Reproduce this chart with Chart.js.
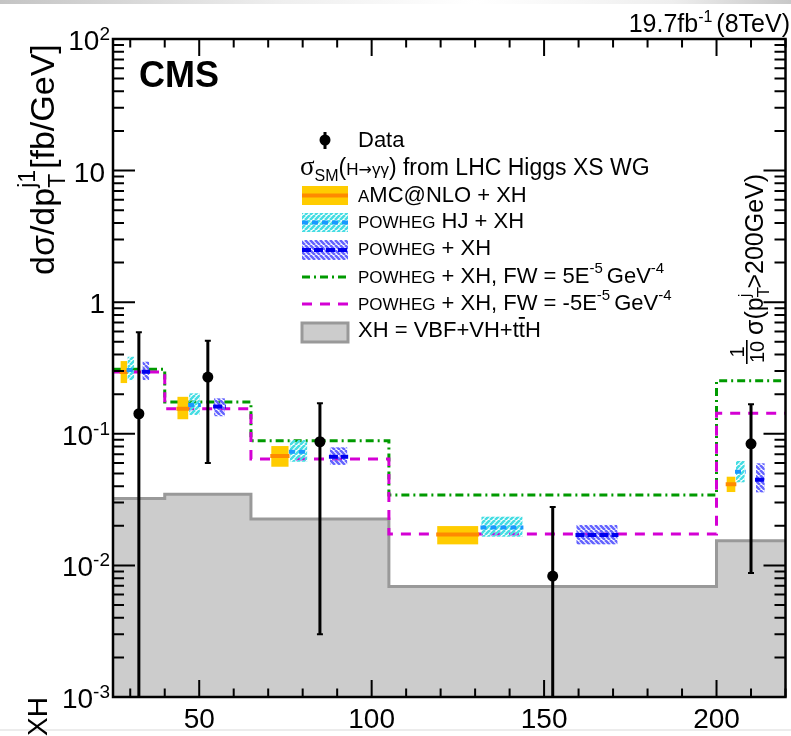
<!DOCTYPE html>
<html>
<head>
<meta charset="utf-8">
<script src="https://cdn.jsdelivr.net/npm/chart.js@4/dist/chart.umd.min.js"></script>
<style>
html, body { margin: 0; padding: 0; background: #fff; }
canvas { display: block; }
</style>
</head>
<body>
<canvas id="grafico" width="791" height="736"></canvas>
<script>
// bins of leading-jet pT (GeV); last bin shown as 1/10 of sigma(pT > 200 GeV)
const binEdges = [25, 40, 65, 105, 200, 220];
const binCenters = [32.5, 52.5, 85, 152.5, 210];

// data with error bar ends (0 = below the frame)
const dataY = [0.142, 0.27, 0.087, 0.0083, 0.084];
const dataHi = [0.59, 0.51, 0.171, 0.0278, 0.168];
const dataLo = [0, 0.06, 0.003, 0, 0.00875];

// XH = VBF+VH+ttH histogram
const xhVals = [0.0323, 0.0348, 0.0225, 0.0069, 0.0154];
// POWHEG + XH with FW = +5E-5 and -5E-5 GeV^-4
const fwPlus = [0.309, 0.1745, 0.0887, 0.0343, 0.253];
const fwMinus = [0.295, 0.155, 0.0644, 0.0173, 0.143];

// aMC@NLO + XH
const amcC = [0.295, 0.155, 0.0678, 0.0172, 0.0413];
const amcHi = [0.357, 0.191, 0.0807, 0.0199, 0.0472];
const amcLo = [0.243, 0.129, 0.0562, 0.01445, 0.0361];
// POWHEG HJ + XH
const hjC = [0.305, 0.1656, 0.0731, 0.01945, 0.0515];
const hjHi = [0.385, 0.203, 0.0897, 0.02344, 0.0621];
const hjLo = [0.256, 0.139, 0.0613, 0.01652, 0.0428];
// POWHEG + XH
const powC = [0.296, 0.161, 0.067, 0.017, 0.0448];
const powHi = [0.353, 0.186, 0.0789, 0.0203, 0.0597];
const powLo = [0.256, 0.136, 0.058, 0.01445, 0.0359];

const xTicksMajor = [50, 100, 150, 200];
const yDecades = [-3, -2, -1, 0, 1, 2];

const SANS = '"Liberation Sans", Arial, Helvetica, sans-serif';
const SERIF = '"Liberation Serif", "DejaVu Serif", serif';
const DEJAVU = '"DejaVu Sans", sans-serif';

const stepPoints = vals => binEdges.map((e, i) => ({ x: e, y: vals[Math.min(i, vals.length - 1)] }));

const canva = document.getElementById("grafico").getContext("2d");

function hatch(color, forward) {
  const s = 5;
  const c = document.createElement("canvas");
  c.width = s; c.height = s;
  const g = c.getContext("2d");
  g.strokeStyle = color;
  g.lineWidth = 2.6;
  g.beginPath();
  for (let k = -1; k <= 1; k++) {
    if (forward) { g.moveTo(k * s, s); g.lineTo(k * s + s, 0); }
    else { g.moveTo(k * s, 0); g.lineTo(k * s + s, s); }
  }
  g.stroke();
  return canva.createPattern(c, "repeat");
}

const cyanHatch = hatch("#45dde3", true);
const blueHatch = hatch("#6464ff", false);

// prediction boxes sit at these fractions of each bin
const bandWidth = 0.125;
const bands = [
  { c: amcC, hi: amcHi, lo: amcLo, pos: 0.21, fill: "#ffcc00", line: "#ff8a00", dash: [] },
  { c: hjC, hi: hjHi, lo: hjLo, pos: 0.345, fill: cyanHatch, line: "#1a98ff", dash: [6, 4] },
  { c: powC, hi: powHi, lo: powLo, pos: 0.635, fill: blueHatch, line: "#0000ee", dash: [9, 3] }
];

// draws text runs with sizes / offsets, returns the width
function rich(ctx, x, y, segs) {
  let cx = x;
  for (const s of segs) {
    ctx.font = (s.b ? "bold " : "") + s.f + "px " + (s.fam || SANS);
    ctx.fillText(s.t, cx, y + (s.dy || 0));
    if (!s.stay) cx += ctx.measureText(s.t).width + (s.gap || 0);
  }
  return cx - x;
}

function richWidth(ctx, segs) {
  let w = 0;
  for (const s of segs) {
    ctx.font = (s.b ? "bold " : "") + s.f + "px " + (s.fam || SANS);
    if (!s.stay) w += ctx.measureText(s.t).width + (s.gap || 0);
  }
  return w;
}

const cmsPlugin = {
  id: "cmsStyle",
  beforeDatasetDraw(chart, args) {
    if (args.index !== 3) return;
    const { ctx, chartArea, scales } = chart;
    const X = v => scales.x.getPixelForValue(v);
    const Y = v => v <= 0 ? chartArea.bottom + 5 : scales.y.getPixelForValue(v);
    ctx.save();
    ctx.beginPath();
    ctx.rect(chartArea.left, chartArea.top, chartArea.right - chartArea.left, chartArea.bottom - chartArea.top);
    ctx.clip();
    // theory boxes
    for (const b of bands) {
      for (let i = 0; i < b.c.length; i++) {
        const w = binEdges[i + 1] - binEdges[i];
        const xc = binEdges[i] + b.pos * w;
        const x0 = X(xc - w * bandWidth / 2), x1 = X(xc + w * bandWidth / 2);
        const yT = Y(b.hi[i]), yB = Y(b.lo[i]), yC = Y(b.c[i]);
        ctx.fillStyle = b.fill;
        ctx.fillRect(x0, yT, x1 - x0, yB - yT);
        ctx.strokeStyle = b.line;
        ctx.lineWidth = 4;
        ctx.setLineDash(b.dash);
        ctx.beginPath();
        ctx.moveTo(x0 - 1, yC);
        ctx.lineTo(x1 + 1, yC);
        ctx.stroke();
      }
    }
    ctx.setLineDash([]);
    // data error bars
    ctx.strokeStyle = "black";
    ctx.lineWidth = 3;
    for (let i = 0; i < dataY.length; i++) {
      const x = X(binCenters[i]);
      const yT = Y(dataHi[i]), yB = Y(dataLo[i]);
      ctx.beginPath();
      ctx.moveTo(x, yT);
      ctx.lineTo(x, yB);
      ctx.stroke();
      ctx.lineWidth = 2;
      ctx.beginPath();
      ctx.moveTo(x - 3, yT); ctx.lineTo(x + 3, yT);
      if (dataLo[i] > 0) { ctx.moveTo(x - 3, yB); ctx.lineTo(x + 3, yB); }
      ctx.stroke();
      ctx.lineWidth = 3;
    }
    ctx.restore();
  },
  afterDraw(chart) {
    const { ctx, chartArea, scales } = chart;
    const { left, right, top, bottom } = chartArea;
    const X = v => scales.x.getPixelForValue(v);
    const Y = v => scales.y.getPixelForValue(v);
    ctx.save();

    // page edges
    const gr = ctx.createLinearGradient(0, 0, 791, 0);
    gr.addColorStop(0, "#c4c4c4");
    gr.addColorStop(0.35, "#eeeeee");
    gr.addColorStop(0.6, "#ffffff");
    gr.addColorStop(0.85, "#eeeeee");
    gr.addColorStop(1, "#c8c8c8");
    ctx.fillStyle = gr;
    ctx.fillRect(0, 0, 791, 4);
    ctx.fillStyle = "#ececec";
    ctx.fillRect(0, 729, 791, 2);

    // frame
    ctx.strokeStyle = "black";
    ctx.lineWidth = 2.5;
    ctx.strokeRect(left, top, right - left, bottom - top);

    // x ticks, bottom and top
    ctx.lineWidth = 2;
    ctx.beginPath();
    for (let v = 30; v <= 220; v += 10) {
      const x = X(v);
      const len = v % 50 === 0 ? 17 : 8.5;
      ctx.moveTo(x, bottom); ctx.lineTo(x, bottom - len);
      ctx.moveTo(x, top); ctx.lineTo(x, top + len);
    }
    // y ticks, left and right
    for (const k of yDecades) {
      for (let m = 1; m <= 9; m++) {
        const v = m * Math.pow(10, k);
        if (v > 100.0001) continue;
        const y = Y(v);
        const len = m === 1 ? 22 : 11;
        ctx.moveTo(left, y); ctx.lineTo(left + len, y);
        ctx.moveTo(right, y); ctx.lineTo(right - len, y);
      }
    }
    ctx.stroke();

    // tick labels
    ctx.fillStyle = "black";
    ctx.textBaseline = "alphabetic";
    ctx.textAlign = "left";
    for (const k of yDecades) {
      const y = Y(Math.pow(10, k));
      let segs;
      if (k === 0) segs = [{ t: "1", f: 28 }];
      else if (k === 1) segs = [{ t: "10", f: 28 }];
      else segs = [{ t: "10", f: 28 }, { t: String(k), f: 19, dy: -10 }];
      const w = richWidth(ctx, segs);
      const rx = (k === 0 || k === 1) ? 105 : 110;
      rich(ctx, rx - w, y + 11, segs);
    }
    ctx.font = "28px " + SANS;
    ctx.textAlign = "center";
    for (const v of xTicksMajor) ctx.fillText(String(v), X(v), 728);
    ctx.textAlign = "left";

    // y axis title
    ctx.save();
    ctx.translate(54, 275);
    ctx.rotate(-Math.PI / 2);
    rich(ctx, 0, 0, [
      { t: "d\u03c3/dp", f: 34 },
      { t: "T", f: 23, dy: 11, stay: true },
      { t: "j1", f: 23, dy: -19, gap: 1 },
      { t: "[fb/GeV]", f: 34 }
    ]);
    ctx.restore();

    // cut-off label of the ratio pad below
    ctx.save();
    ctx.translate(47, 736);
    ctx.rotate(-Math.PI / 2);
    ctx.font = "28px " + SANS;
    ctx.fillText("XH", 0, 0);
    ctx.restore();

    // last-bin note
    ctx.save();
    ctx.translate(763, 364);
    ctx.rotate(-Math.PI / 2);
    ctx.font = "20px " + SANS;
    ctx.textAlign = "center";
    ctx.fillText("1", 12, -19);
    ctx.fillText("10", 12, 1);
    ctx.fillRect(0, -17, 24, 1.6);
    ctx.textAlign = "left";
    rich(ctx, 29, 0, [
      { t: "\u03c3(p", f: 25 },
      { t: "T", f: 17, dy: 6, stay: true },
      { t: "j", f: 17, dy: -13, gap: 5 },
      { t: ">200GeV)", f: 25 }
    ]);
    ctx.restore();

    // CMS and luminosity
    ctx.font = "bold 36px " + SANS;
    ctx.fillText("CMS", 139, 87);
    const lumi = [
      { t: "19.7fb", f: 25 },
      { t: "-1", f: 16, dy: -10, gap: 4 },
      { t: "(8TeV)", f: 25 }
    ];
    rich(ctx, 790 - richWidth(ctx, lumi), 32, lumi);

    // legend
    const sx0 = 302, sx1 = 348, tx = 358;
    // Data
    ctx.lineWidth = 3;
    ctx.beginPath();
    ctx.moveTo(325, 132); ctx.lineTo(325, 149);
    ctx.stroke();
    ctx.beginPath();
    ctx.arc(325, 140, 5.5, 0, Math.PI * 2);
    ctx.fill();
    rich(ctx, tx, 147, [{ t: "Data", f: 22 }]);
    // header
    rich(ctx, 300, 175, [
      { t: "\u03c3", f: 27, fam: SERIF },
      { t: "SM", f: 16, dy: 6 },
      { t: "(", f: 23 },
      { t: "H", f: 17 },
      { t: "\u2192", f: 16, fam: DEJAVU },
      { t: "\u03b3\u03b3", f: 17 },
      { t: ")", f: 23 },
      { t: " from LHC Higgs XS WG", f: 23 }
    ]);
    // prediction boxes
    const legRows = [
      { b: bands[0], y0: 186, y1: 205, text: [{ t: "A", f: 17 }, { t: "MC@NLO + XH", f: 22 }], base: 202 },
      { b: bands[1], y0: 213, y1: 232, text: [{ t: "POWHEG", f: 17 }, { t: " HJ + XH", f: 22 }], base: 228 },
      { b: bands[2], y0: 240, y1: 260, text: [{ t: "POWHEG", f: 17 }, { t: " + XH", f: 22 }], base: 255 }
    ];
    for (const r of legRows) {
      ctx.fillStyle = r.b.fill;
      ctx.fillRect(sx0, r.y0, sx1 - sx0, r.y1 - r.y0);
      ctx.strokeStyle = r.b.line;
      ctx.lineWidth = 4;
      ctx.setLineDash(r.b.dash);
      ctx.beginPath();
      const yc = (r.y0 + r.y1) / 2;
      ctx.moveTo(sx0, yc); ctx.lineTo(sx1, yc);
      ctx.stroke();
      ctx.setLineDash([]);
      ctx.fillStyle = "black";
      rich(ctx, tx, r.base, r.text);
    }
    // FW lines
    const fwRows = [
      { color: "#009a00", dash: [8, 4, 2, 4], y: 277, base: 283, sign: "5E" },
      { color: "#d400d4", dash: [10, 8], y: 304, base: 310, sign: "-5E" }
    ];
    for (const r of fwRows) {
      ctx.strokeStyle = r.color;
      ctx.lineWidth = 3;
      ctx.setLineDash(r.dash);
      ctx.beginPath();
      ctx.moveTo(sx0, r.y); ctx.lineTo(sx1, r.y);
      ctx.stroke();
      ctx.setLineDash([]);
      ctx.fillStyle = "black";
      rich(ctx, tx, r.base, [
        { t: "POWHEG", f: 17 },
        { t: " + XH, FW = " + r.sign, f: 22 },
        { t: "-5", f: 15, dy: -10, gap: 4 },
        { t: "GeV", f: 22 },
        { t: "-4", f: 15, dy: -10 }
      ]);
    }
    // XH box
    ctx.fillStyle = "#cccccc";
    ctx.fillRect(sx0, 323, sx1 - sx0, 19);
    ctx.strokeStyle = "#999999";
    ctx.lineWidth = 3;
    ctx.strokeRect(sx0, 323, sx1 - sx0, 19);
    ctx.fillStyle = "black";
    ctx.font = "22px " + SANS;
    const pre = "XH = VBF+VH+t";
    ctx.fillText(pre, tx, 337);
    const tbx = tx + ctx.measureText(pre).width;
    ctx.fillText("tH", tbx, 337);
    ctx.fillRect(tbx, 317, ctx.measureText("t").width, 1.8);

    ctx.restore();
  }
};

new Chart(canva, {
  type: "line",
  data: {
    datasets: [
      {
        label: "XH = VBF+VH+ttH",
        data: stepPoints(xhVals),
        stepped: "before",
        borderColor: "#999999",
        borderWidth: 3,
        backgroundColor: "#cccccc",
        fill: "start",
        pointRadius: 0,
        order: 5
      },
      {
        label: "FW = 5E-5",
        data: stepPoints(fwPlus),
        stepped: "before",
        borderColor: "#009a00",
        borderWidth: 3,
        borderDash: [8, 4, 2, 4],
        pointRadius: 0,
        fill: false,
        order: 4
      },
      {
        label: "FW = -5E-5",
        data: stepPoints(fwMinus),
        stepped: "before",
        borderColor: "#d400d4",
        borderWidth: 3,
        borderDash: [10, 8],
        pointRadius: 0,
        fill: false,
        order: 3
      },
      {
        label: "Data",
        data: binCenters.map((x, i) => ({ x, y: dataY[i] })),
        showLine: false,
        pointRadius: 5.5,
        pointBackgroundColor: "black",
        pointBorderWidth: 0,
        order: 0
      }
    ]
  },
  options: {
    responsive: false,
    animation: false,
    devicePixelRatio: 1,
    layout: { padding: { left: 113, right: 3, top: 39, bottom: 39 } },
    plugins: { legend: { display: false }, tooltip: { enabled: false } },
    scales: {
      x: { type: "linear", min: 25, max: 220, display: false },
      y: { type: "logarithmic", min: 1e-3, max: 1e2, display: false }
    }
  },
  plugins: [cmsPlugin]
});
</script>
</body>
</html>
